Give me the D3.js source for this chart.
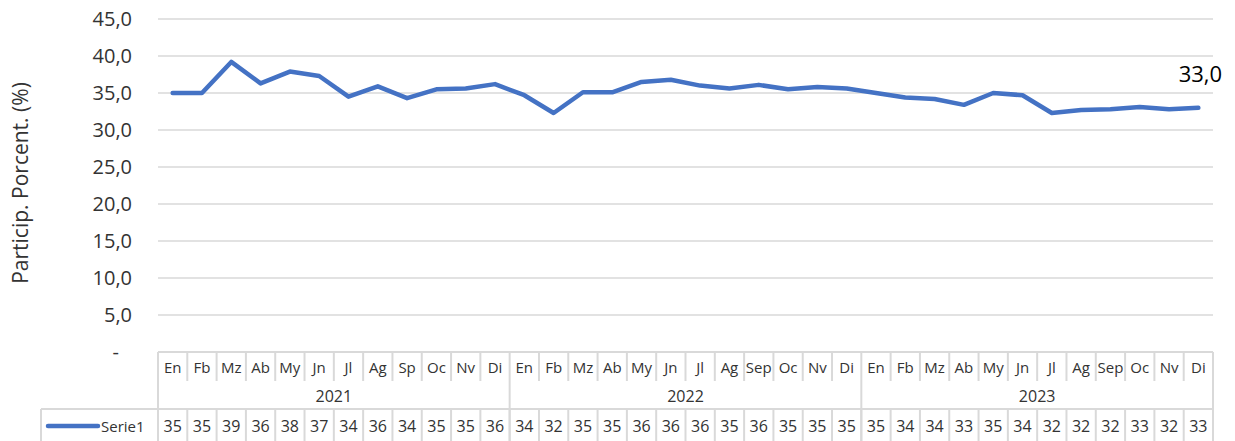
<!DOCTYPE html>
<html>
<head>
<meta charset="utf-8">
<script src="https://cdn.jsdelivr.net/npm/d3@7"></script>
<style>
    body { margin: 0; background: #fff; }
    text { font-family: "Open Sans", "Noto Sans", sans-serif; }
</style>
</head>
<body>
<script>
//chart data
var years = ["2021", "2022", "2023"];
var months = ["En", "Fb", "Mz", "Ab", "My", "Jn", "Jl", "Ag", "Sp", "Oc", "Nv", "Di",
              "En", "Fb", "Mz", "Ab", "My", "Jn", "Jl", "Ag", "Sep", "Oc", "Nv", "Di",
              "En", "Fb", "Mz", "Ab", "My", "Jn", "Jl", "Ag", "Sep", "Oc", "Nv", "Di"];
var serie1 = [35.0, 35.0, 39.2, 36.3, 37.9, 37.3, 34.5, 35.9, 34.3, 35.5, 35.6, 36.2,
              34.7, 32.3, 35.1, 35.1, 36.5, 36.8, 36.0, 35.6, 36.1, 35.5, 35.8, 35.6,
              35.0, 34.4, 34.2, 33.4, 35.0, 34.7, 32.3, 32.7, 32.8, 33.1, 32.8, 33.0];
//values as printed in the data table under the chart
var tableLabels = ["35", "35", "39", "36", "38", "37", "34", "36", "34", "35", "35", "36",
                   "34", "32", "35", "35", "36", "36", "36", "35", "36", "35", "35", "35",
                   "35", "34", "34", "33", "35", "34", "32", "32", "32", "33", "32", "33"];
var yTicks = [0, 5, 10, 15, 20, 25, 30, 35, 40, 45];
var seriesName = "Serie1";
var yTitle = "Particip. Porcent. (%)";

window.onload = drawChart();

function drawChart(){
    var width = 1235,
        height = 441;

    var blue = "#4472C4",
        grid = "#d9d9d9",
        textColor = "#333333";

    var svg = d3.select("body")
        .append("svg")
        .attr("width", width)
        .attr("height", height);

    //plot area
    var left = 158, right = 1213, top = 19, bottom = 352;

    var x = d3.scaleBand()
        .domain(d3.range(serie1.length))
        .range([left, right])
        .padding(0);

    var y = d3.scaleLinear()
        .domain([0, 45])
        .range([bottom, top]);

    var cx = function(i){ return x(i) + x.bandwidth() / 2; };

    //horizontal gridlines (0 line is covered by the table top)
    svg.selectAll(".gridLine")
        .data(yTicks.filter(function(d){ return d > 0; }))
        .enter()
        .append("line")
        .attr("class", "gridLine")
        .attr("x1", left)
        .attr("x2", right)
        .attr("y1", function(d){ return y(d); })
        .attr("y2", function(d){ return y(d); })
        .attr("stroke", grid)
        .attr("stroke-width", 1.5);

    //y axis labels, comma decimals, zero shown as a dash
    var yAxis = d3.axisLeft(y)
        .tickValues(yTicks)
        .tickSize(0)
        .tickPadding(26)
        .tickFormat(function(d){ return d === 0 ? "-" : d.toFixed(1).replace(".", ","); });

    var yAxisG = svg.append("g")
        .attr("transform", "translate(" + left + ",0)")
        .call(yAxis);
    yAxisG.select(".domain").remove();
    yAxisG.selectAll("text")
        .attr("fill", textColor)
        .style("font-size", "20px")
        .style("font-family", "'Open Sans', sans-serif")
        .attr("dx", function(d){ return d === 0 ? -13 : 0; });

    //y title
    svg.append("text")
        .attr("transform", "translate(28," + 183 + ") rotate(-90)")
        .attr("text-anchor", "middle")
        .attr("fill", textColor)
        .style("font-size", "21px")
        .text(yTitle);

    //series line
    var line = d3.line()
        .x(function(d, i){ return cx(i); })
        .y(function(d){ return y(d); });

    svg.append("path")
        .datum(serie1)
        .attr("d", line)
        .attr("fill", "none")
        .attr("stroke", blue)
        .attr("stroke-width", 4.5)
        .attr("stroke-linejoin", "round")
        .attr("stroke-linecap", "round");

    //label on last point
    var last = serie1.length - 1;
    svg.append("text")
        .attr("x", cx(last) + 2)
        .attr("y", y(serie1[last]) - 26)
        .attr("text-anchor", "middle")
        .attr("fill", "#000")
        .style("font-size", "22px")
        .text(serie1[last].toFixed(1).replace(".", ","));

    //data table under the chart
    var rowTop = bottom, rowYear = 381, rowData = 409, rowEnd = height;
    var table = svg.append("g")
        .attr("stroke", grid)
        .attr("stroke-width", 2);

    //top and data row borders
    table.append("line").attr("x1", left).attr("x2", right).attr("y1", rowTop).attr("y2", rowTop);
    table.append("line").attr("x1", 41).attr("x2", right).attr("y1", rowData).attr("y2", rowData);
    table.append("line").attr("x1", 41).attr("x2", 41).attr("y1", rowData).attr("y2", rowEnd);

    //month cell separators
    table.selectAll(".monthSep")
        .data(d3.range(serie1.length + 1))
        .enter()
        .append("line")
        .attr("x1", function(i){ return i < serie1.length ? x(i) : right; })
        .attr("x2", function(i){ return i < serie1.length ? x(i) : right; })
        .attr("y1", rowTop)
        .attr("y2", function(i){ return i % 12 === 0 ? rowEnd : rowYear; });

    //data cell separators
    table.selectAll(".dataSep")
        .data(d3.range(serie1.length))
        .enter()
        .append("line")
        .attr("x1", function(i){ return x(i); })
        .attr("x2", function(i){ return x(i); })
        .attr("y1", rowData)
        .attr("y2", rowEnd);

    //month labels
    svg.selectAll(".month")
        .data(months)
        .enter()
        .append("text")
        .attr("class", "month")
        .attr("x", function(d, i){ return cx(i); })
        .attr("y", 373)
        .attr("text-anchor", "middle")
        .attr("fill", textColor)
        .style("font-size", "15px")
        .text(function(d){ return d; });

    //year labels
    svg.selectAll(".year")
        .data(years)
        .enter()
        .append("text")
        .attr("class", "year")
        .attr("x", function(d, i){ return (x(i * 12) + x(i * 12 + 11) + x.bandwidth()) / 2; })
        .attr("y", 402)
        .attr("text-anchor", "middle")
        .attr("fill", textColor)
        .style("font-size", "16px")
        .text(function(d){ return d; });

    //data values
    svg.selectAll(".value")
        .data(tableLabels)
        .enter()
        .append("text")
        .attr("class", "value")
        .attr("x", function(d, i){ return cx(i); })
        .attr("y", 432)
        .attr("text-anchor", "middle")
        .attr("fill", textColor)
        .style("font-size", "16px")
        .text(function(d){ return d; });

    //legend key inside table
    svg.append("line")
        .attr("x1", 48)
        .attr("x2", 98)
        .attr("y1", 426)
        .attr("y2", 426)
        .attr("stroke", blue)
        .attr("stroke-width", 4.5)
        .attr("stroke-linecap", "round");

    svg.append("text")
        .attr("x", 101)
        .attr("y", 432)
        .attr("fill", textColor)
        .style("font-size", "15px")
        .text(seriesName);
}
</script>
</body>
</html>
